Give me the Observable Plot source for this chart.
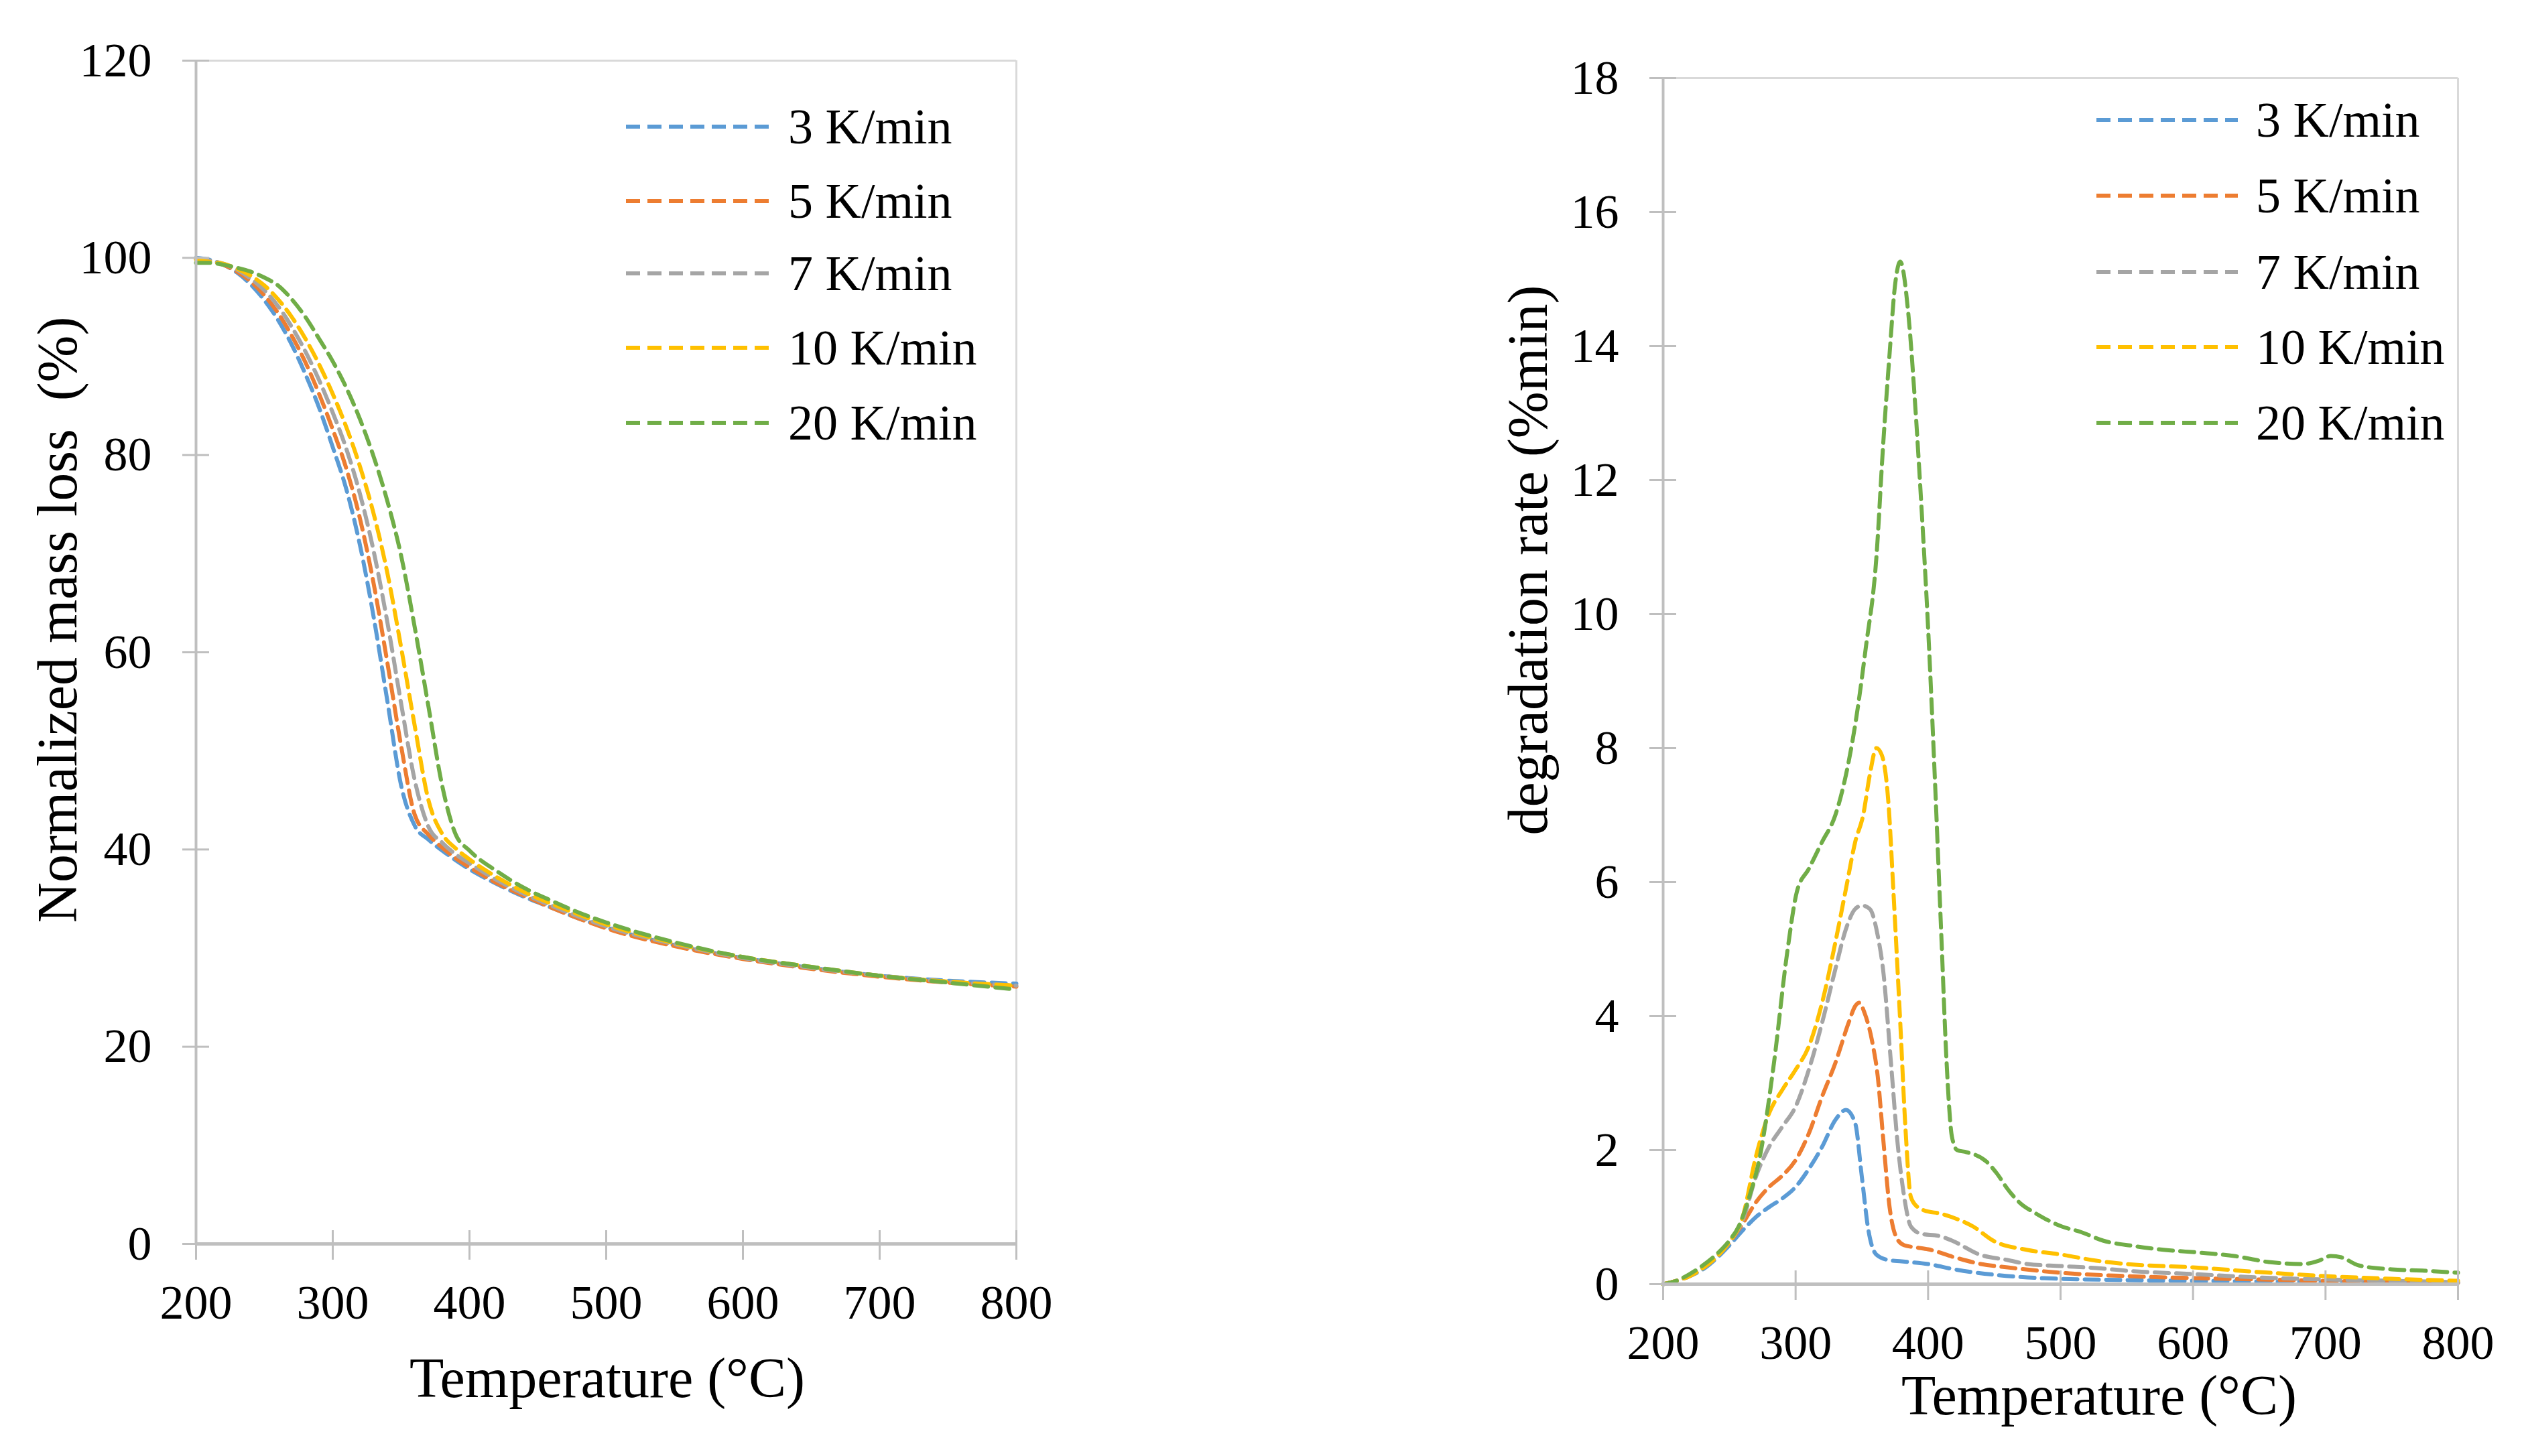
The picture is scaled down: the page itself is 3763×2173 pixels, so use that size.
<!DOCTYPE html>
<html><head><meta charset="utf-8">
<script src="https://cdn.jsdelivr.net/npm/d3@7"></script>
<script src="https://cdn.jsdelivr.net/npm/@observablehq/plot@0.6"></script>
<style>
html,body{margin:0;padding:0;background:#fff;}
#root{position:relative;width:3763px;height:2173px;overflow:hidden;font-family:"Liberation Serif","Times New Roman",serif;color:#000;}
.panel{position:absolute;top:0;}
.title{position:absolute;font-size:84px;white-space:pre;line-height:1;transform:translate(-50%,-50%);}
.ytitle{position:absolute;font-size:84px;white-space:pre;line-height:1;transform:translate(-50%,-50%) rotate(-90deg);}
.legrow{position:absolute;height:90px;display:flex;align-items:center;font-size:74px;white-space:pre;}
.legrow svg{display:block;}
</style></head><body><div id="root"></div>
<script>
// ---------- data ----------
const seriesNames = ["3 K/min", "5 K/min", "7 K/min", "10 K/min", "20 K/min"];
const seriesColors = ["#5B9BD5", "#ED7D31", "#A5A5A5", "#FFC000", "#70AD47"];

const xTicks = [200, 300, 400, 500, 600, 700, 800];
const yTicksMass = [0, 20, 40, 60, 80, 100, 120];
const yTicksRate = [0, 2, 4, 6, 8, 10, 12, 14, 16, 18];

// Normalized mass loss (%)
const tgaTemp = [200,210,220,230,240,250,260,270,280,290,300,310,320,330,340,350,360,370,380,390,400,420,440,460,480,500,550,600,650,700,750,800];
const tga3  = [100.0,99.8,99.3,98.5,97.3,95.7,93.7,91.2,88.2,84.8,80.8,76.5,70.8,63.5,55.0,46.5,42.4,41.0,39.9,38.9,38.0,36.5,35.2,34.1,33.0,32.1,30.3,29.0,28.0,27.2,26.7,26.4];
const tga5  = [99.9,99.7,99.3,98.6,97.6,96.2,94.4,92.1,89.4,86.2,82.6,78.6,73.5,66.9,58.9,50.5,43.5,41.5,40.2,39.1,38.2,36.6,35.3,34.1,33.0,32.0,30.2,28.9,27.9,27.1,26.5,26.1];
const tga7  = [99.9,99.7,99.4,98.8,97.9,96.7,95.1,93.0,90.5,87.6,84.3,80.6,76.0,70.2,63.0,54.8,47.0,42.3,40.7,39.5,38.6,36.9,35.5,34.3,33.2,32.2,30.4,29.0,28.0,27.2,26.6,26.2];
const tga10 = [99.8,99.6,99.4,98.9,98.2,97.2,95.8,94.0,91.8,89.2,86.2,82.8,78.8,74.0,68.0,60.5,52.5,45.0,41.6,40.1,39.0,37.2,35.7,34.5,33.4,32.4,30.5,29.1,28.1,27.2,26.6,26.2];
const tga20 = [99.5,99.5,99.3,99.0,98.6,98.0,97.2,95.8,94.0,91.8,89.5,86.8,83.6,79.8,75.3,69.8,62.5,54.5,46.5,41.5,39.9,37.8,36.1,34.8,33.6,32.6,30.6,29.1,28.1,27.2,26.5,25.8];

// Degradation rate (%/min)
const dtgTemp3 = [200,210,220,230,240,250,260,270,280,290,300,310,320,330,338,345,350,355,361,370,380,400,420,450,475,500,550,600,650,700,750,800];
const dtg3     = [0,0.05,0.12,0.22,0.38,0.58,0.8,1.0,1.15,1.28,1.45,1.72,2.05,2.45,2.6,2.4,1.6,0.8,0.44,0.36,0.34,0.3,0.22,0.14,0.1,0.08,0.06,0.05,0.04,0.03,0.03,0.02];
const dtgTemp5 = [200,210,220,230,240,250,260,270,280,290,300,310,320,330,340,345,348,352,358,362,366,371,376,382,390,400,420,440,460,500,550,600,650,700,750,800];
const dtg5     = [0,0.05,0.12,0.24,0.4,0.62,0.9,1.22,1.45,1.62,1.85,2.25,2.8,3.3,3.9,4.15,4.2,4.05,3.6,3.1,2.2,1.14,0.7,0.58,0.55,0.52,0.4,0.3,0.25,0.17,0.12,0.09,0.07,0.05,0.03,0.02];
const dtgTemp7 = [200,210,220,230,240,250,260,270,280,290,300,310,320,330,338,345,350,356,362,366,372,377,382,387,395,408,418,439,460,475,500,527,550,600,650,700,750,800];
const dtg7     = [0,0.05,0.12,0.24,0.4,0.63,0.95,1.6,2.05,2.35,2.65,3.2,3.9,4.7,5.3,5.6,5.65,5.6,5.2,4.7,3.3,2.1,1.3,0.86,0.75,0.72,0.65,0.44,0.36,0.3,0.27,0.24,0.2,0.15,0.1,0.07,0.05,0.03];
const dtgTemp10 = [200,210,220,230,240,250,260,270,280,290,300,310,320,330,338,345,351,356,361,365,370,374,379,383,387,392,397,410,418,434,449,475,501,527,550,600,650,700,750,800];
const dtg10     = [0,0.05,0.12,0.24,0.4,0.63,1.0,1.9,2.55,2.9,3.2,3.55,4.2,5.1,5.9,6.6,7.0,7.6,8.0,7.9,7.2,5.8,3.9,2.3,1.3,1.15,1.1,1.05,1.0,0.86,0.65,0.51,0.44,0.35,0.3,0.25,0.18,0.12,0.08,0.05];
const dtgTemp20 = [200,210,220,230,240,250,257,265,273,283,294,301,310,320,330,338,345,353,361,366,371,375,379,385,390,395,400,405,410,414,418,422,429,444,452,460,470,480,501,515,532,555,579,605,631,657,683,695,704,712,725,750,775,800];
const dtg20     = [0,0.05,0.15,0.28,0.44,0.65,0.86,1.3,1.9,3.2,5.0,5.86,6.2,6.6,7.0,7.6,8.35,9.5,10.85,12.5,13.9,14.9,15.26,14.5,13.2,11.6,9.8,7.6,5.2,3.3,2.2,2.0,1.97,1.83,1.65,1.42,1.2,1.07,0.86,0.78,0.65,0.57,0.51,0.47,0.42,0.33,0.3,0.35,0.42,0.4,0.28,0.22,0.2,0.17];

// ---------- build tables ----------
const tgaValues = [tga3, tga5, tga7, tga10, tga20];
const tgaRows = seriesNames.flatMap((s, i) => tgaTemp.map((t, j) => ({s, t, v: tgaValues[i][j]})));
const dtgTemps = [dtgTemp3, dtgTemp5, dtgTemp7, dtgTemp10, dtgTemp20];
const dtgValues = [dtg3, dtg5, dtg7, dtg10, dtg20];
const dtgRows = seriesNames.flatMap((s, i) => dtgTemps[i].map((t, j) => ({s, t, v: dtgValues[i][j]})));

const FONT = "Liberation Serif, Times New Roman, serif";
const AXIS = "#BFBFBF", FRAME = "#D9D9D9";
const DASH = "21,11";
const TICKFONT = 72;

function panel({width, height, mL, mR, mT, mB, yDomain, yTicks, rows}) {
  const plotW = width - mL - mR, plotH = height - mT - mB;
  return Plot.plot({
    width, height,
    marginLeft: mL, marginRight: mR, marginTop: mT, marginBottom: mB,
    style: {fontFamily: FONT, fontSize: TICKFONT + "px", color: "#000", background: "transparent", overflow: "visible"},
    x: {domain: [200, 800]},
    y: {domain: yDomain},
    color: {domain: seriesNames, range: seriesColors},
    marks: [
      Plot.ruleY([yDomain[1]], {stroke: FRAME, strokeWidth: 3}),
      Plot.ruleX([800], {stroke: FRAME, strokeWidth: 3}),
      Plot.line(rows, {x: "t", y: "v", z: "s", stroke: "s", strokeWidth: 6, strokeDasharray: DASH, curve: "monotone-x"}),
      Plot.ruleX([200], {stroke: AXIS, strokeWidth: 4}),
      Plot.ruleY([yDomain[0]], {stroke: AXIS, strokeWidth: 5}),
      Plot.axisX({ticks: xTicks, tickSize: 24, tickPadding: 36, stroke: AXIS, strokeWidth: 3, fill: "#000", label: null, fontSize: TICKFONT, tickFormat: d => String(d)}),
      Plot.tickX(xTicks, {x: d => d, insetTop: plotH - 20, stroke: AXIS, strokeWidth: 3}),
      Plot.axisY({ticks: yTicks, tickSize: 20, tickPadding: 46, stroke: AXIS, strokeWidth: 3, fill: "#000", label: null, fontSize: TICKFONT, tickFormat: d => String(d)}),
      Plot.tickY(yTicks, {y: d => d, insetRight: plotW - 20, stroke: AXIS, strokeWidth: 3})
    ]
  });
}

const root = document.getElementById("root");

function place(el, left) {
  const wrap = document.createElement("div");
  wrap.className = "panel";
  wrap.style.left = left + "px";
  wrap.appendChild(el);
  root.appendChild(wrap);
}

place(panel({width: 1700, height: 2173, mL: 292, mR: 184, mT: 90, mB: 317, yDomain: [0, 120], yTicks: yTicksMass, rows: tgaRows}), 0);
place(panel({width: 1863, height: 2173, mL: 581, mR: 96, mT: 116, mB: 257, yDomain: [0, 18], yTicks: yTicksRate, rows: dtgRows}), 1900);

function addText(cls, txt, x, y) {
  const d = document.createElement("div");
  d.className = cls;
  d.textContent = txt;
  d.style.left = x + "px";
  d.style.top = y + "px";
  root.appendChild(d);
}
addText("title", "Temperature (°C)", 906, 2057);
addText("title", "Temperature (°C)", 3132, 2083);
addText("ytitle", "Normalized mass loss  (%)", 86, 925);
addText("ytitle", "degradation rate (%min)", 2280, 836);

function legend(lineX, textX, rowsY) {
  seriesNames.forEach((name, i) => {
    const row = document.createElement("div");
    row.className = "legrow";
    row.style.left = lineX + "px";
    row.style.top = (rowsY[i] - 45) + "px";
    const lw = textX - lineX - 27;
    const svg = d3.create("svg").attr("width", lw).attr("height", 12);
    svg.append("line").attr("x1", 0).attr("x2", lw).attr("y1", 6).attr("y2", 6)
      .attr("stroke", seriesColors[i]).attr("stroke-width", 6).attr("stroke-dasharray", DASH);
    row.appendChild(svg.node());
    const sp = document.createElement("span");
    sp.style.marginLeft = "27px";
    sp.textContent = name;
    row.appendChild(sp);
    root.appendChild(row);
  });
}
legend(934, 1176, [189, 300, 408, 519, 631]);
legend(3128, 3366, [179, 292, 406, 518, 631]);
</script>
</body></html>
